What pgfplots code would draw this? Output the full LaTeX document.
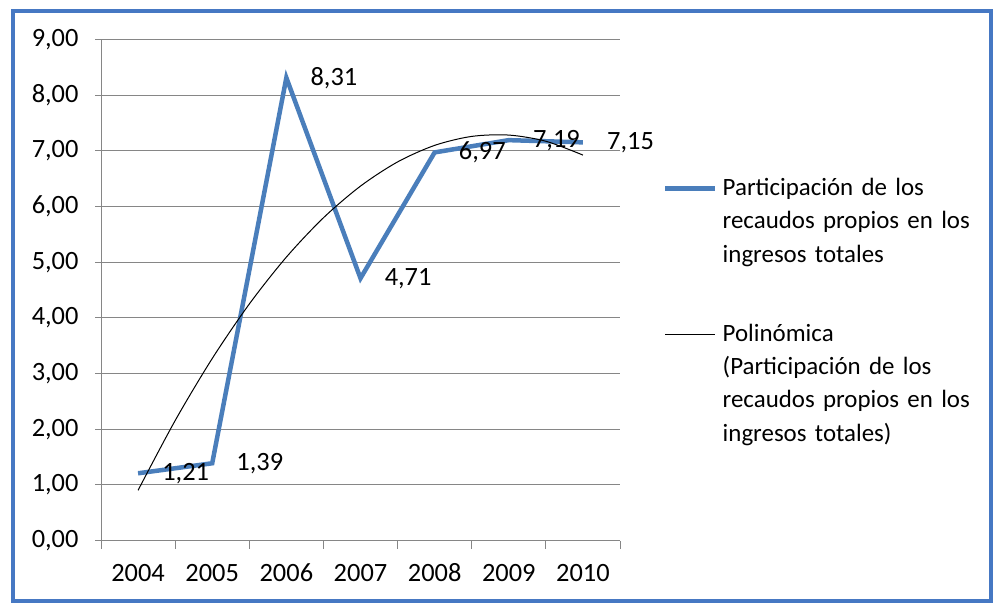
\documentclass[border=0pt]{standalone}
\usepackage{fontspec}
\setmainfont{Carlito}
\usepackage{pgfplots}
\pgfplotsset{compat=1.18}
\definecolor{serie}{RGB}{74,126,187}
\definecolor{marco}{RGB}{70,120,195}
\definecolor{grilla}{RGB}{134,134,134}
\begin{document}
\begin{tikzpicture}
\path[use as bounding box] (0,0) rectangle (994bp,603bp);
\begin{axis}[
  at={(101bp,62.3bp)}, anchor=south west,
  scale only axis, width=519bp, height=501.4bp,
  xmin=-0.5, xmax=6.5, ymin=0, ymax=9,
  ytick={0,1,...,9},
  xtick={0,...,6},
  xticklabels={2004,2005,2006,2007,2008,2009,2010},
  minor xtick={-0.5,0.5,...,6.5},
  axis x line*=bottom, axis y line*=left,
  axis line style={grilla, line width=1bp, -},
  ymajorgrids, major grid style={grilla, line width=1bp},
  tick align=outside,
  major tick length=6bp, minor tick length=8bp,
  major x tick style={draw=none},
  minor x tick style={grilla, line width=1bp},
  major y tick style={grilla, line width=1bp},
  ticklabel style={font=\fontsize{26.5}{31}\selectfont, text=black},
  /pgf/number format/assume math mode=true,
  y tick label style={xshift=-13bp, /pgf/number format/.cd, fixed, fixed zerofill, precision=2, use comma},
  x tick label style={anchor=base, yshift=-35bp},
  legend style={at={(1.0829,0.7274)}, anchor=north west, draw=none, fill=none,
    inner sep=0pt, row sep=123bp, column sep=3bp,
    cells={anchor=base west, align=left, text width=280bp, inner sep=0pt,
      font=\fontsize{25}{33.5}\selectfont}},
  legend image code/.code={\draw[#1] (0bp,7bp) -- (50bp,7bp);},
]
\addplot[serie, line width=4.5bp, miter limit=20,
  nodes near coords, point meta=explicit symbolic,
  nodes near coords style={anchor=west, xshift=22bp, inner sep=0pt, text=black,
    font=\fontsize{26.5}{31}\selectfont}]
  coordinates {(0,1.21)[1,21] (1,1.39)[1,39] (2,8.31)[8,31] (3,4.71)[4,71]
               (4,6.97)[6,97] (5,7.19)[7,19] (6,7.15)[7,15]};
\addlegendentry{Participación de los\\recaudos propios en los\\ingresos totales}
\addplot[black, line width=1bp, smooth]
  coordinates {(0,0.905) (0.5,2.156) (1,3.270) (1.5,4.248) (2,5.090) (2.5,5.796)
               (3,6.365) (3.5,6.799) (4,7.096) (4.5,7.257) (5,7.281) (5.5,7.170) (6,6.922)};
\addlegendentry{Polinómica\\(Participación de los\\recaudos propios en los\\ingresos totales)}
\end{axis}
\draw[marco, line width=4bp] (13bp,2bp) rectangle (991bp,592bp);
\end{tikzpicture}
\end{document}
